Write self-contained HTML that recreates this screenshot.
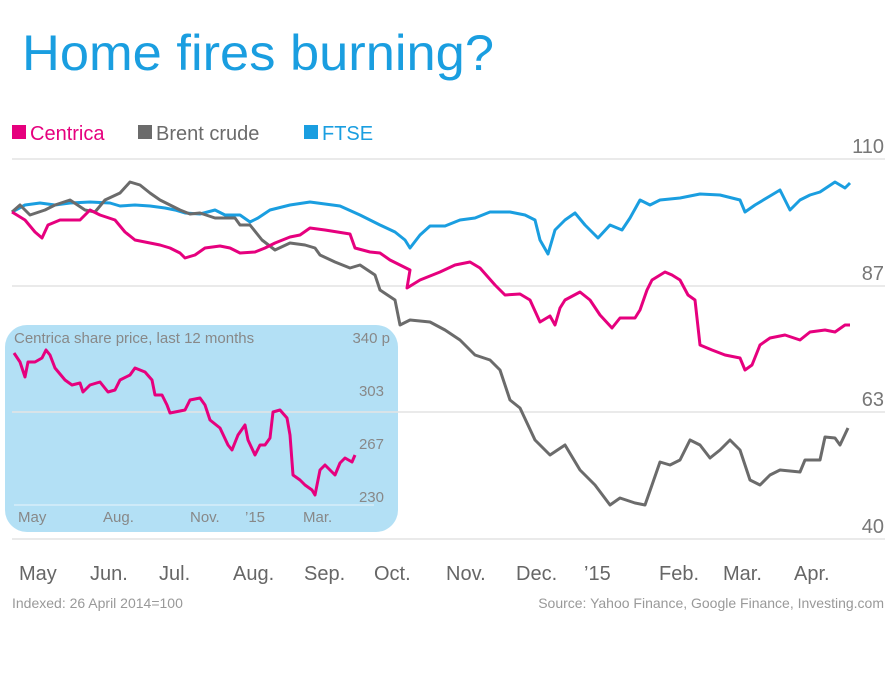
<!DOCTYPE html>
<html><head><meta charset="utf-8"><style>
body{margin:0;background:#fff;width:890px;height:676px;overflow:hidden;font-family:"Liberation Sans","DejaVu Sans",sans-serif}
</style></head><body>
<svg width="890" height="676" xmlns="http://www.w3.org/2000/svg" font-family="Liberation Sans, DejaVu Sans, sans-serif">
<text x="22" y="70" font-size="50" fill="#1a9ee0" textLength="472" lengthAdjust="spacingAndGlyphs">Home fires burning?</text>
<rect x="12" y="125" width="14" height="14" fill="#e6007e"/><text x="30" y="140" font-size="20" fill="#e6007e">Centrica</text>
<rect x="138" y="125" width="14" height="14" fill="#6b6b6b"/><text x="156" y="140" font-size="20" fill="#6b6b6b">Brent crude</text>
<rect x="304" y="125" width="14" height="14" fill="#1a9ee0"/><text x="322" y="140" font-size="20" fill="#1a9ee0">FTSE</text>
<g stroke="#e4e4e4" stroke-width="1.5">
<line x1="12" y1="159" x2="885" y2="159"/><line x1="12" y1="286" x2="885" y2="286"/><line x1="12" y1="412" x2="885" y2="412"/><line x1="12" y1="539" x2="885" y2="539"/></g>
<g font-size="20" fill="#777" text-anchor="end">
<text x="884" y="153">110</text><text x="884" y="280">87</text><text x="884" y="406">63</text><text x="884" y="533">40</text></g>
<g fill="none" stroke-width="3" stroke-linejoin="round">
<polyline stroke="#1a9ee0" points="12,212 25,205 40,203 55,205 70,203 90,202 110,203 120,206 135,205 150,206 165,208 175,210 185,213 200,214 215,210 225,215 240,215 250,222 258,218 270,210 290,205 310,202 340,206 360,215 380,225 395,232 405,240 410,248 420,235 430,226 445,226 460,220 475,218 490,212 510,212 525,215 535,220 540,240 548,254 555,230 565,220 575,213 585,225 598,238 610,225 622,230 630,218 640,200 650,205 660,200 680,198 700,194 720,195 740,200 745,212 755,205 770,196 780,190 790,210 800,200 810,195 820,192 835,182 845,188 850,183"/>
<polyline stroke="#6b6b6b" points="12,212 20,205 30,215 45,210 55,205 70,200 85,210 95,212 105,200 120,193 130,182 140,185 150,193 160,200 170,205 180,210 190,214 200,213 215,218 235,218 240,225 250,225 262,240 275,250 290,243 305,245 315,248 320,255 335,262 350,268 360,265 375,275 380,290 395,300 400,325 410,320 430,322 445,330 460,340 475,355 490,360 500,370 510,400 520,408 535,440 550,455 565,445 580,470 595,485 610,505 620,498 635,503 645,505 652,485 660,462 670,465 680,460 690,440 700,445 710,458 720,450 730,440 740,450 750,480 760,485 770,475 780,470 800,472 805,460 820,460 825,437 835,438 840,445 848,428"/>
<polyline stroke="#e6007e" points="12,212 25,220 35,232 42,238 48,225 60,220 80,220 90,210 100,215 115,220 125,232 135,240 150,243 160,245 170,248 180,253 185,258 195,255 205,248 220,246 230,248 240,253 255,252 265,248 275,243 290,237 300,235 310,228 325,230 350,234 355,248 370,252 380,253 390,260 400,265 410,270 407,288 420,280 440,272 455,265 470,262 480,268 495,285 505,295 520,294 530,300 540,322 550,316 555,325 560,308 565,300 580,292 590,300 600,315 612,328 620,318 635,318 640,310 647,290 652,280 665,272 672,275 680,280 688,295 695,300 700,345 712,350 725,355 740,358 745,370 752,365 760,345 770,338 785,335 800,340 810,332 825,330 835,332 845,325 850,325"/>
</g>
<rect x="5" y="325" width="393" height="207" rx="22" fill="#b3e0f5"/>
<line x1="12" y1="412" x2="398" y2="412" stroke="#e4e4e4" stroke-width="1.5"/>
<line x1="14" y1="505" x2="374" y2="505" stroke="#e8f4fa" stroke-width="1"/>
<text x="14" y="343" font-size="15" fill="#888">Centrica share price, last 12 months</text>
<g font-size="15" fill="#888" text-anchor="end">
<text x="390" y="343">340 p</text><text x="384" y="396">303</text><text x="384" y="449">267</text><text x="384" y="502">230</text></g>
<g font-size="15" fill="#888">
<text x="18" y="522">May</text><text x="103" y="522">Aug.</text><text x="190" y="522">Nov.</text><text x="245" y="522">’15</text><text x="303" y="522">Mar.</text></g>
<polyline fill="none" stroke="#e6007e" stroke-width="3" stroke-linejoin="round" points="14,353 20,362 25,377 28,362 35,362 42,358 46,350 50,355 55,368 65,380 72,385 80,383 83,392 90,385 100,382 108,392 115,390 120,380 130,375 135,368 145,372 152,380 155,395 162,395 167,405 170,413 175,412 185,410 190,400 200,398 205,405 210,420 220,428 228,445 232,450 238,435 245,425 248,440 255,455 260,445 265,445 270,438 273,412 280,410 287,418 290,435 293,475 300,480 305,485 312,490 315,495 320,470 325,465 330,470 335,475 340,463 345,458 352,462 355,455"/>
<g font-size="20" fill="#666">
<text x="19" y="580">May</text><text x="90" y="580">Jun.</text><text x="159" y="580">Jul.</text><text x="233" y="580">Aug.</text><text x="304" y="580">Sep.</text><text x="374" y="580">Oct.</text><text x="446" y="580">Nov.</text><text x="516" y="580">Dec.</text><text x="584" y="580">’15</text><text x="659" y="580">Feb.</text><text x="723" y="580">Mar.</text><text x="794" y="580">Apr.</text></g>
<text x="12" y="608" font-size="14" fill="#999">Indexed: 26 April 2014=100</text>
<text x="884" y="608" font-size="14" fill="#999" text-anchor="end">Source: Yahoo Finance, Google Finance, Investing.com</text>
</svg>
</body></html>
